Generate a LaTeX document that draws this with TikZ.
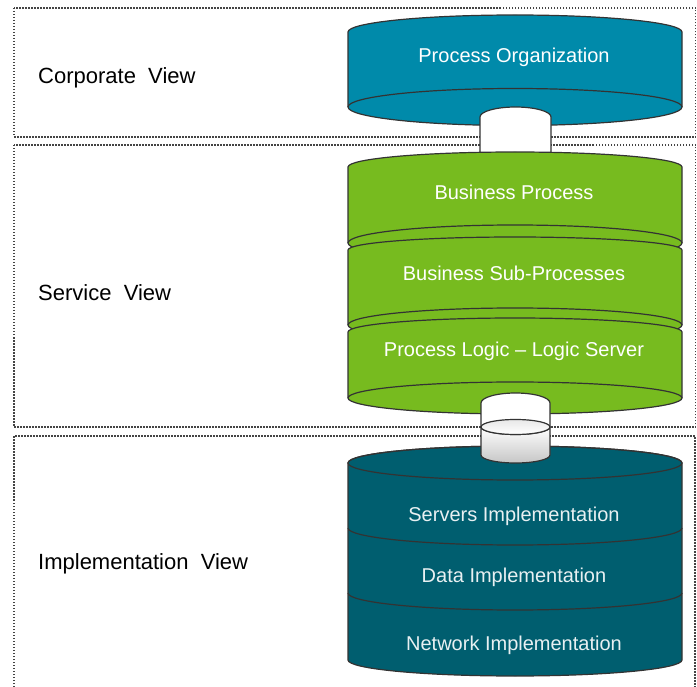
\documentclass[tikz,border=0pt]{standalone}
\usepackage{fontspec}
\setmainfont{Liberation Sans}
\definecolor{orgblue}{HTML}{008AAA}
\definecolor{svcgreen}{HTML}{77BB1F}
\definecolor{impteal}{HTML}{005E6F}
\definecolor{edgegray}{HTML}{333333}
\definecolor{framegray}{HTML}{444444}
\definecolor{paletext}{HTML}{E8F0F2}
\tikzset{
  cyl/.style={draw=edgegray, line width=1.2pt, line join=round},
  viewframe/.style={draw=framegray, line width=1.5pt, dash pattern=on 1.5pt off 1.5pt},
  viewlabel/.style={font=\fontsize{22}{26}\selectfont, text=black, anchor=base west, inner sep=0pt},
  layerlabel/.style={font=\fontsize{20}{24}\selectfont, text=white, anchor=base, inner sep=0pt},
}
% cylinder segment seen from slightly below:
% #1 fill, #2 centre x, #3 x radius, #4 top rim y, #5 top y radius, #6 bottom rim y, #7 bottom y radius
\newcommand\cylseg[7]{%
  \filldraw[cyl, fill=#1] (#2-#3,#4)
    arc[start angle=180, end angle=360, x radius=#3pt, y radius=#5pt]
    -- (#2+#3,#6)
    arc[start angle=0, end angle=180, x radius=#3pt, y radius=#7pt] -- cycle;
  \draw[cyl] (#2-#3,#6) arc[start angle=180, end angle=360, x radius=#3pt, y radius=#7pt];
}
\begin{document}
\begin{tikzpicture}[x=1pt, y=1pt, yscale=-1]
\useasboundingbox (0,0) rectangle (697,687);

% dotted view frames
\draw[viewframe] (14,8) rectangle (695.5,137);
\draw[viewframe] (14,145) rectangle (695.5,427);
\draw[viewframe] (14,687) -- (14,436) -- (695,436) -- (695,687);

% corporate layer
\cylseg{orgblue}{515}{167}{32}{17}{107}{18.5}

% link between corporate and service layers
\filldraw[cyl, fill=white] (480,160) -- (480,117)
  arc[start angle=180, end angle=360, x radius=35.5pt, y radius=10pt] -- (551,160) -- cycle;

% service layers
\cylseg{svcgreen}{515}{167}{167}{15}{243}{18}
\cylseg{svcgreen}{515}{167}{250}{13}{325}{17}
\cylseg{svcgreen}{515}{167}{332}{14}{398}{16}

% implementation stack, seen from above
\filldraw[cyl, fill=impteal] (348,463) -- (348,660)
  arc[start angle=180, end angle=0, x radius=167pt, y radius=16pt]
  -- (682,463)
  arc[start angle=0, end angle=-180, x radius=167pt, y radius=17pt] -- cycle;
\draw[cyl] (515,463) ellipse[x radius=167pt, y radius=17pt];
\draw[cyl] (348,528) arc[start angle=180, end angle=0, x radius=167pt, y radius=17pt];
\draw[cyl] (348,593) arc[start angle=180, end angle=0, x radius=167pt, y radius=17pt];

% link between service and implementation layers
\filldraw[cyl, fill=white] (481,427) -- (481,403)
  arc[start angle=180, end angle=360, x radius=34.5pt, y radius=10pt]
  -- (550,427)
  arc[start angle=0, end angle=180, x radius=34.5pt, y radius=7.5pt] -- cycle;
\draw[cyl, top color=white, bottom color=gray!45] (481,427) -- (481,455)
  arc[start angle=180, end angle=0, x radius=34.5pt, y radius=8pt]
  -- (550,427)
  arc[start angle=0, end angle=180, x radius=34.5pt, y radius=7.5pt] -- cycle;
\draw[cyl, top color=gray!18, bottom color=white] (515.5,427) ellipse[x radius=34.5pt, y radius=7.5pt];

% view labels
\node[viewlabel] (corp) at (38,84) {Corporate\hspace{0.556em}View};
\node[viewlabel] (svc) at (38,301) {Service\hspace{0.556em}View};
\node[viewlabel] (impl) at (38,569) {Implementation\hspace{0.556em}View};

% layer labels
\node[layerlabel] (org) at (514,63) {Process Organization};
\node[layerlabel] (bp) at (514,200) {Business Process};
\node[layerlabel] (bsp) at (514,281) {Business Sub-Processes};
\node[layerlabel] (pl) at (514,357) {Process Logic – Logic Server};
\node[layerlabel, text=paletext] (srv) at (514,521) {Servers Implementation};
\node[layerlabel, text=paletext] (data) at (514,582) {Data Implementation};
\node[layerlabel, text=paletext] (net) at (514,650) {Network Implementation};
\end{tikzpicture}
\end{document}
